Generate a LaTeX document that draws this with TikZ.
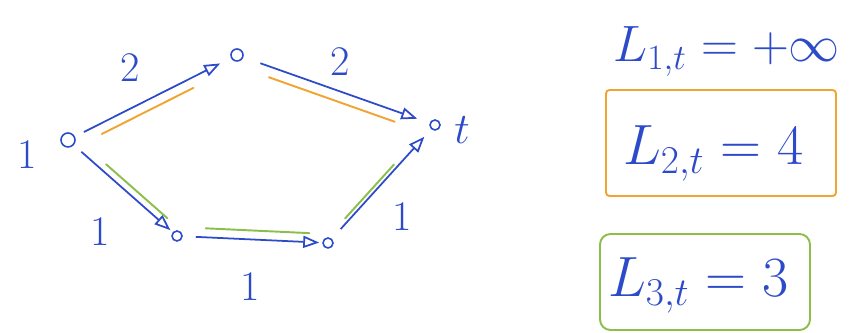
\documentclass[tikz,border=0pt]{standalone}
\usepackage{amsmath}
\usetikzlibrary{arrows.meta}
\definecolor{penblue}{RGB}{45,75,200}
\definecolor{penorange}{RGB}{240,165,50}
\definecolor{pengreen}{RGB}{140,190,75}

\begin{document}
\begin{tikzpicture}[x=0.02cm,y=-0.02cm,
    vert/.style={circle,draw=penblue,line width=0.9pt,minimum size=0.2cm,inner sep=0pt},
    wedge/.style={penblue,line width=1pt,-{Triangle[open,length=0.32cm,width=0.24cm]}},
    hl/.style={line width=1.1pt,line cap=round},
    lab/.style={text=penblue,font=\fontsize{24}{28}\selectfont},
    big/.style={text=penblue,font=\fontsize{24}{28}\selectfont,scale=1.3,anchor=base west}]
  \useasboundingbox (0,0) rectangle (851,333);
  % the graph
  \node[vert,minimum size=0.28cm] (s) at (68,140) {};
  \node[vert,minimum size=0.24cm] (u) at (237,55) {};
  \node[vert] (t) at (435,125) {};
  \node[vert] (v) at (177,236) {};
  \node[vert] (w) at (328,243) {};
  \node[lab] (ls) at (27,155) {1};
  \node[lab] (lt) at (462,130) {$t$};
  \draw[wedge,shorten <=0.2cm,shorten >=0.24cm] (s) -- (u);
  \draw[wedge,shorten <=0.36cm,shorten >=0.26cm] (u) -- (t);
  \draw[wedge,shorten <=0.2cm,shorten >=0.06cm] (s) -- (v);
  \draw[wedge,shorten <=0.26cm,shorten >=0.06cm] (v) -- (w);
  \draw[wedge,shorten <=0.26cm,shorten >=0.2cm] (w) -- (t);
  \node[lab] (e1) at (130,68) {2};
  \node[lab] (e2) at (340,62) {2};
  \node[lab] (e3) at (100,232) {1};
  \node[lab] (e4) at (250,287) {1};
  \node[lab] (e5) at (402,217) {1};
  % paths 2 and 3
  \draw[hl,penorange,shorten <=0.6cm,shorten >=0.84cm,transform canvas={yshift=-0.22cm}] (s) -- (u);
  \draw[hl,penorange,shorten <=0.54cm,shorten >=0.74cm,transform canvas={yshift=-0.22cm}] (u) -- (t);
  \draw[hl,pengreen,shorten <=0.7cm,shorten >=0.3cm,transform canvas={xshift=0.12cm,yshift=0.08cm}] (s) -- (v);
  \draw[hl,pengreen,shorten <=0.46cm,shorten >=0.26cm,transform canvas={yshift=0.18cm}] (v) -- (w);
  \draw[hl,pengreen,shorten <=0.6cm,shorten >=0.9cm,transform canvas={xshift=-0.14cm,yshift=-0.04cm}] (w) -- (t);
  % lengths
  \node[big,scale=0.9] (l1) at (606,62) {$L_{1,t} = +\infty$};
  \node[big] (l2) at (615,165) {$L_{2,t} = 4$};
  \node[big] (l3) at (600,297) {$L_{3,t} = 3$};
  \draw[hl,penorange,rounded corners=2pt] (606,90) rectangle (836,196);
  \draw[hl,pengreen,rounded corners=6pt] (600,234) rectangle (810,330);
\end{tikzpicture}
\end{document}
